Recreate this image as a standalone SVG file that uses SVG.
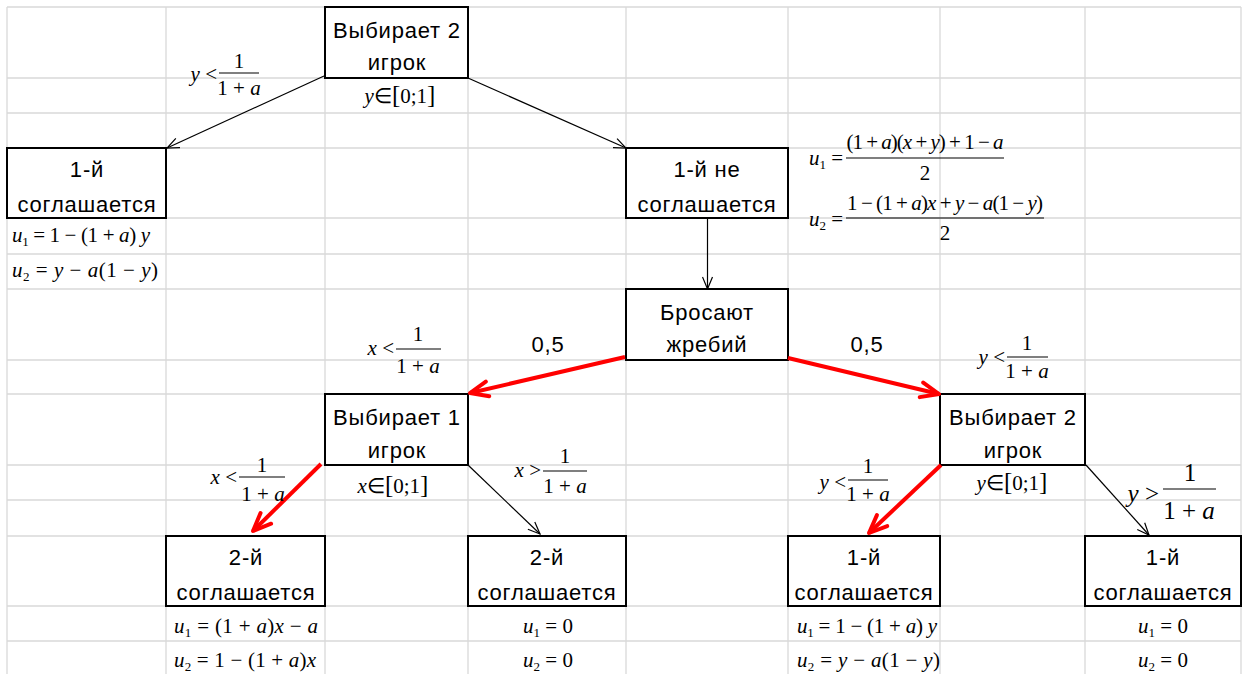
<svg xmlns="http://www.w3.org/2000/svg" width="1245" height="674" viewBox="0 0 1245 674">
<style>
.grid line{stroke:#d9d9d9;stroke-width:1.3}
.box{fill:#fff;stroke:#000;stroke-width:2}
.t{font-family:"Liberation Sans",Arial,sans-serif;font-size:22px;letter-spacing:0.8px;fill:#000;text-anchor:middle}
.m{font-family:"Liberation Serif","Times New Roman",serif;font-size:21px;fill:#000}
.big{font-size:25px}
.c{text-anchor:middle}
.e{text-anchor:end}
.i{font-style:italic}
.s{font-size:13px}
.br{font-size:25px}
.bar{stroke:#000;stroke-width:1.1}
.ab{stroke:#000;stroke-width:1.2;fill:none;marker-end:url(#ah)}
.ar{stroke:#ff0000;stroke-width:4;fill:none;marker-end:url(#ahr)}
</style>
<defs>
<marker id="ah" viewBox="0 0 14 12" refX="13" refY="6" markerWidth="14" markerHeight="12" markerUnits="userSpaceOnUse" orient="auto">
<path d="M1,1 L13,6 L1,11" fill="none" stroke="#000" stroke-width="1.2"/>
</marker>
<marker id="ahr" viewBox="0 0 24 20" refX="21" refY="10" markerWidth="24" markerHeight="20" markerUnits="userSpaceOnUse" orient="auto">
<path d="M3,2.5 L21,10 L3,17.5" fill="none" stroke="#ff0000" stroke-width="4" stroke-linecap="round" stroke-linejoin="round"/>
</marker>
</defs>
<rect width="1245" height="674" fill="#fff"/>
<g class="grid">
<line x1="7" y1="7" x2="7" y2="674"/><line x1="166" y1="7" x2="166" y2="674"/><line x1="325" y1="7" x2="325" y2="674"/><line x1="468" y1="7" x2="468" y2="674"/><line x1="626" y1="7" x2="626" y2="674"/><line x1="788" y1="7" x2="788" y2="674"/><line x1="940" y1="7" x2="940" y2="674"/><line x1="1085" y1="7" x2="1085" y2="674"/><line x1="1241" y1="7" x2="1241" y2="674"/>
<line x1="7" y1="7" x2="1241" y2="7"/><line x1="7" y1="78" x2="1241" y2="78"/><line x1="7" y1="113" x2="1241" y2="113"/><line x1="7" y1="148" x2="1241" y2="148"/><line x1="7" y1="218" x2="1241" y2="218"/><line x1="7" y1="254" x2="1241" y2="254"/><line x1="7" y1="289" x2="1241" y2="289"/><line x1="7" y1="360" x2="1241" y2="360"/><line x1="7" y1="394" x2="1241" y2="394"/><line x1="7" y1="465" x2="1241" y2="465"/><line x1="7" y1="500" x2="1241" y2="500"/><line x1="7" y1="536" x2="1241" y2="536"/><line x1="7" y1="606" x2="1241" y2="606"/><line x1="7" y1="641" x2="1241" y2="641"/>
</g>

<g id="n1"><rect class="box" x="325" y="7" width="143" height="71"/><text class="t" x="397" y="38">Выбирает 2</text><text class="t" x="397" y="70">игрок</text></g>
<g id="n2"><rect class="box" x="7" y="148" width="159" height="70"/><text class="t" x="87" y="177">1-й</text><text class="t" x="87" y="212">соглашается</text></g>
<g id="n3"><rect class="box" x="626" y="148" width="162" height="70"/><text class="t" x="707" y="177">1-й не</text><text class="t" x="707" y="212">соглашается</text></g>
<g id="n4"><rect class="box" x="626" y="289" width="162" height="71"/><text class="t" x="707" y="320">Бросают</text><text class="t" x="707" y="352">жребий</text></g>
<g id="n5"><rect class="box" x="325" y="394" width="143" height="71"/><text class="t" x="397" y="425">Выбирает 1</text><text class="t" x="397" y="458">игрок</text></g>
<g id="n6"><rect class="box" x="940" y="394" width="145" height="71"/><text class="t" x="1013" y="425">Выбирает 2</text><text class="t" x="1013" y="458">игрок</text></g>
<g id="n7"><rect class="box" x="166" y="536" width="159" height="70"/><text class="t" x="246" y="565">2-й</text><text class="t" x="246" y="600">соглашается</text></g>
<g id="n8"><rect class="box" x="468" y="536" width="158" height="70"/><text class="t" x="547" y="565">2-й</text><text class="t" x="547" y="600">соглашается</text></g>
<g id="n9"><rect class="box" x="788" y="536" width="152" height="70"/><text class="t" x="864" y="565">1-й</text><text class="t" x="864" y="600">соглашается</text></g>
<g id="n10"><rect class="box" x="1085" y="536" width="156" height="70"/><text class="t" x="1163" y="565">1-й</text><text class="t" x="1163" y="600">соглашается</text></g>

<g id="connectors">
<line class="ab" x1="324" y1="76" x2="167" y2="148"/>
<line class="ab" x1="468" y1="78" x2="626" y2="148"/>
<line class="ab" x1="707.5" y1="218" x2="707.5" y2="289"/>
<line class="ab" x1="468" y1="465" x2="540" y2="534"/>
<line class="ab" x1="1086" y1="465" x2="1149" y2="535"/>
<line class="ar" x1="625" y1="357" x2="470" y2="393"/>
<line class="ar" x1="788" y1="358" x2="939" y2="394"/>
<line class="ar" x1="321" y1="464" x2="253" y2="531"/>
<line class="ar" x1="941" y1="465" x2="869" y2="533"/>
</g>

<g id="labels">
<text class="t" x="548" y="352">0,5</text>
<text class="t" x="867" y="352">0,5</text>

<text class="m e" x="217" y="81"><tspan class="i">y</tspan> &lt;</text>
<line class="bar" x1="219" y1="73" x2="259" y2="73"/>
<text class="m c" x="239" y="68">1</text>
<text class="m c" x="239" y="95">1 + <tspan class="i">a</tspan></text>

<text class="m c" x="400" y="103"><tspan class="i">y</tspan>∈<tspan class="br">[</tspan>0;1<tspan class="br">]</tspan></text>

<text class="m" x="809" y="165"><tspan class="i">u</tspan><tspan class="s" dy="4">1</tspan><tspan dy="-4"> =</tspan></text>
<text class="m c" x="925" y="149" textLength="157">(1 + <tspan class="i">a</tspan>)(<tspan class="i">x</tspan> + <tspan class="i">y</tspan>) + 1 − <tspan class="i">a</tspan></text>
<line class="bar" x1="846" y1="158" x2="1004" y2="158"/>
<text class="m c" x="925" y="180">2</text>

<text class="m" x="809" y="226"><tspan class="i">u</tspan><tspan class="s" dy="4">2</tspan><tspan dy="-4"> =</tspan></text>
<text class="m c" x="945" y="210" textLength="196">1 − (1 + <tspan class="i">a</tspan>)<tspan class="i">x</tspan> + <tspan class="i">y</tspan> − <tspan class="i">a</tspan>(1 − <tspan class="i">y</tspan>)</text>
<line class="bar" x1="846" y1="218" x2="1044" y2="218"/>
<text class="m c" x="945" y="240">2</text>

<text class="m" x="12" y="242" textLength="138"><tspan class="i">u</tspan><tspan class="s" dy="4">1</tspan><tspan dy="-4"> = 1 − (1 + </tspan><tspan class="i">a</tspan>) <tspan class="i">y</tspan></text>
<text class="m" x="12" y="277" textLength="146"><tspan class="i">u</tspan><tspan class="s" dy="4">2</tspan><tspan dy="-4"> = </tspan><tspan class="i">y</tspan> − <tspan class="i">a</tspan>(1 − <tspan class="i">y</tspan>)</text>

<text class="m e" x="394" y="355"><tspan class="i">x</tspan> &lt;</text>
<line class="bar" x1="396" y1="349" x2="441" y2="349"/>
<text class="m c" x="418" y="341">1</text>
<text class="m c" x="418" y="373">1 + <tspan class="i">a</tspan></text>

<text class="m e" x="1005" y="364"><tspan class="i">y</tspan> &lt;</text>
<line class="bar" x1="1007" y1="357" x2="1048" y2="357"/>
<text class="m c" x="1027" y="350">1</text>
<text class="m c" x="1027" y="378">1 + <tspan class="i">a</tspan></text>

<text class="m e" x="237" y="484"><tspan class="i">x</tspan> &lt;</text>
<line class="bar" x1="239" y1="477" x2="285" y2="477"/>
<text class="m c" x="262" y="472">1</text>
<text class="m c" x="263" y="501">1 + <tspan class="i">a</tspan></text>

<text class="m c" x="393" y="493"><tspan class="i">x</tspan>∈<tspan class="br">[</tspan>0;1<tspan class="br">]</tspan></text>

<text class="m e" x="541" y="477"><tspan class="i">x</tspan> &gt;</text>
<line class="bar" x1="543" y1="471" x2="587" y2="471"/>
<text class="m c" x="565" y="463">1</text>
<text class="m c" x="565" y="493">1 + <tspan class="i">a</tspan></text>

<text class="m e" x="846" y="489"><tspan class="i">y</tspan> &lt;</text>
<line class="bar" x1="848" y1="480" x2="888" y2="480"/>
<text class="m c" x="868" y="473">1</text>
<text class="m c" x="868" y="501">1 + <tspan class="i">a</tspan></text>

<text class="m c" x="1012" y="490"><tspan class="i">y</tspan>∈<tspan class="br">[</tspan>0;1<tspan class="br">]</tspan></text>

<text class="m big e" x="1159" y="502"><tspan class="i">y</tspan> &gt;</text>
<line class="bar" x1="1163" y1="489" x2="1216" y2="489"/>
<text class="m big c" x="1190" y="481">1</text>
<text class="m big c" x="1189" y="519">1 + <tspan class="i">a</tspan></text>

<text class="m" x="174" y="633" textLength="144"><tspan class="i">u</tspan><tspan class="s" dy="4">1</tspan><tspan dy="-4"> = (1 + </tspan><tspan class="i">a</tspan>)<tspan class="i">x</tspan> − <tspan class="i">a</tspan></text>
<text class="m" x="174" y="667" textLength="142"><tspan class="i">u</tspan><tspan class="s" dy="4">2</tspan><tspan dy="-4"> = 1 − (1 + </tspan><tspan class="i">a</tspan>)<tspan class="i">x</tspan></text>

<text class="m c" x="548" y="633"><tspan class="i">u</tspan><tspan class="s" dy="4">1</tspan><tspan dy="-4"> = 0</tspan></text>
<text class="m c" x="548" y="667"><tspan class="i">u</tspan><tspan class="s" dy="4">2</tspan><tspan dy="-4"> = 0</tspan></text>

<text class="m" x="797" y="633" textLength="140"><tspan class="i">u</tspan><tspan class="s" dy="4">1</tspan><tspan dy="-4"> = 1 − (1 + </tspan><tspan class="i">a</tspan>) <tspan class="i">y</tspan></text>
<text class="m" x="797" y="667" textLength="143"><tspan class="i">u</tspan><tspan class="s" dy="4">2</tspan><tspan dy="-4"> = </tspan><tspan class="i">y</tspan> − <tspan class="i">a</tspan>(1 − <tspan class="i">y</tspan>)</text>

<text class="m c" x="1163" y="633"><tspan class="i">u</tspan><tspan class="s" dy="4">1</tspan><tspan dy="-4"> = 0</tspan></text>
<text class="m c" x="1163" y="667"><tspan class="i">u</tspan><tspan class="s" dy="4">2</tspan><tspan dy="-4"> = 0</tspan></text>
</g>
</svg>
